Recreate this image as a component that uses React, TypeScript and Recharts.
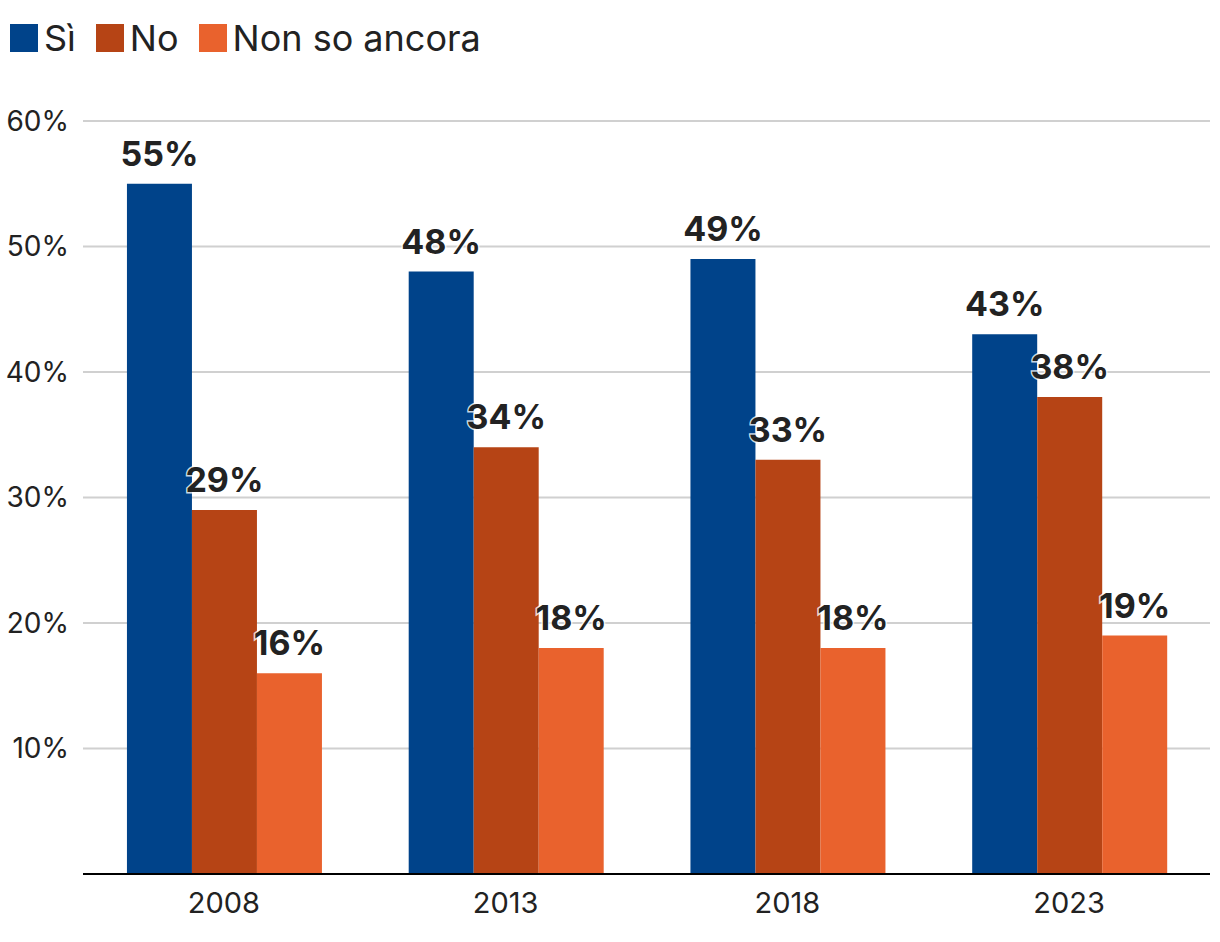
import { Bar, BarChart, CartesianGrid, LabelList, XAxis, YAxis } from 'recharts';

const years = ['2008', '2013', '2018', '2023'];
const si = [55, 48, 49, 43];
const no = [29, 34, 33, 38];
const nonSo = [16, 18, 18, 19];
const yTicks = [10, 20, 30, 40, 50, 60];

const seriesNames = ['Sì', 'No', 'Non so ancora'];
const colors = ['#00438A', '#B64415', '#E9622D'];

const data = years.map((y, i) => ({ year: y, si: si[i], no: no[i], nonSo: nonSo[i] }));

const FONT = 'Inter, "Noto Sans", sans-serif';

function TopLegend() {
    return (
        <div
            style={{
                position: 'absolute',
                top: 18,
                left: 10,
                display: 'flex',
                alignItems: 'center',
                fontFamily: FONT,
                fontSize: 36,
                lineHeight: '40px',
                color: '#222',
                whiteSpace: 'nowrap',
            }}
        >
            {seriesNames.map((name, i) => (
                <div key={name} style={{ display: 'flex', alignItems: 'center', marginRight: 20 }}>
                    <span style={{ display: 'inline-block', width: 28, height: 28, background: colors[i], marginRight: 6 }} />
                    <span>{name}</span>
                </div>
            ))}
        </div>
    );
}

const labelStyle = {
    fontFamily: FONT,
    fontSize: 34,
    fontWeight: 700,
    fill: '#222',
    stroke: '#fff',
    strokeWidth: 3,
    strokeOpacity: 0.8,
    paintOrder: 'stroke',
} as const;

export default function App() {
    return (
        <div style={{ position: 'absolute', left: 0, top: 0, width: 1220, height: 942, background: '#fff' }}>
            <BarChart
                width={1220}
                height={942}
                data={data}
                margin={{ top: 121, right: 10, bottom: 18, left: 8 }}
                barCategoryGap="15.6%"
                barGap={0}
            >
                <CartesianGrid vertical={false} stroke="#d0d0d0" strokeWidth={2} />
                <XAxis
                    dataKey="year"
                    tickLine={false}
                    axisLine={{ stroke: '#000', strokeWidth: 2 }}
                    tickSize={6}
                    tickMargin={12}
                    height={50}
                    tick={{ fontFamily: FONT, fontSize: 29, fill: '#222' }}
                />
                <YAxis
                    domain={[0, 60]}
                    ticks={yTicks}
                    tickFormatter={(v) => `${v}%`}
                    axisLine={false}
                    tickLine={false}
                    tickMargin={8}
                    width={75}
                    tick={{ fontFamily: FONT, fontSize: 28, fill: '#222' }}
                />
                <Bar dataKey="si" name={seriesNames[0]} fill={colors[0]} isAnimationActive={false}>
                    <LabelList dataKey="si" position="top" offset={18} formatter={(v: number) => `${v}%`} style={labelStyle} />
                </Bar>
                <Bar dataKey="no" name={seriesNames[1]} fill={colors[1]} isAnimationActive={false}>
                    <LabelList dataKey="no" position="top" offset={18} formatter={(v: number) => `${v}%`} style={labelStyle} />
                </Bar>
                <Bar dataKey="nonSo" name={seriesNames[2]} fill={colors[2]} isAnimationActive={false}>
                    <LabelList dataKey="nonSo" position="top" offset={18} formatter={(v: number) => `${v}%`} style={labelStyle} />
                </Bar>
            </BarChart>
            <TopLegend />
        </div>
    );
}
